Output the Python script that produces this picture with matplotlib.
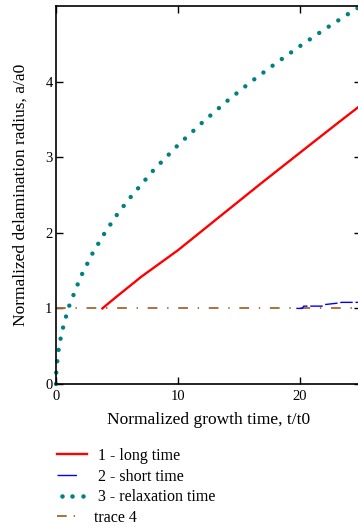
import matplotlib
matplotlib.use('Agg')
import matplotlib.pyplot as plt
from matplotlib.lines import Line2D
from matplotlib.legend_handler import HandlerLine2D

plt.rcParams['font.family'] = ['Liberation Serif', 'DejaVu Serif']
plt.rcParams['lines.scale_dashes'] = False

# 1 - long time
t_long = [3.8, 5, 7, 10, 13, 16.7, 20, 23, 25]
a_long = [1.0, 1.16, 1.42, 1.77, 2.16, 2.64, 3.06, 3.44, 3.69]

# 2 - short time (stepped)
t_short = [19.7, 20.2, 20.3, 21.8, 22.0, 23.1, 23.4, 25]
a_short = [1.0, 1.0, 1.03, 1.03, 1.05, 1.07, 1.08, 1.08]

# 3 - relaxation time
t_relax = [0, 0.02, 0.1, 0.25, 0.5, 1, 2, 3, 4, 5, 6, 8, 10, 12, 14, 16, 18, 20, 22, 24, 25]
a_relax = [0, 0.15, 0.3, 0.5, 0.7, 1.0, 1.41, 1.73, 2.0, 2.24, 2.45, 2.83, 3.16, 3.46, 3.74,
           4.0, 4.24, 4.47, 4.69, 4.9, 5.0]

# trace 4
t_trace4 = [0, 25]
a_trace4 = [1.0, 1.0]

labels = [' 1 - long time', ' 2 - short time', ' 3 - relaxation time', 'trace 4']

red = '#ff0000'
blue = '#0000ff'
teal = '#008080'
brown = '#a8662c'

fig = plt.figure(figsize=(3.58, 5.29), dpi=100)
ax = fig.add_axes([56 / 358, 1 - 384 / 529, 305 / 358, 378 / 529])

ax.plot(t_trace4, a_trace4, color=brown, lw=1.3, dashes=(7, 7, 1, 7))
ax.plot(t_long, a_long, color=red, lw=1.7)
ax.plot(t_short, a_short, color=blue, lw=1.0, dashes=(9, 2))
ax.plot(t_relax, a_relax, color=teal, lw=3.2, dashes=(0.01, 8.2),
        dash_capstyle='round', clip_on=False)

ax.set_xlim(0, 25)
ax.set_ylim(0, 5)
ax.set_xticks([0, 10, 20])
ax.set_yticks([0, 1, 2, 3, 4])
ax.tick_params(direction='in', length=5, width=1, labelsize=10.5, top=True, right=True)
ax.tick_params(axis='y', pad=2.5)
ax.tick_params(axis='x', pad=4)
for s in ax.spines.values():
    s.set_linewidth(1.2)

ax.set_xlabel('Normalized growth time, t/t0', fontsize=12.5, labelpad=7)
ax.set_ylabel('Normalized delamination radius, a/a0', fontsize=12.5, labelpad=12)

dots = Line2D([], [], color=teal, ls='none', marker='o', markersize=3.2, markeredgewidth=0)
handles = [
    Line2D([], [], color=red, lw=1.7),
    Line2D([], [], color=blue, lw=1.0, dashes=(14, 30)),
    dots,
    Line2D([], [], color=brown, lw=1.3, dashes=(7, 5, 1, 20)),
]
fig.legend(handles, labels, loc='upper left', bbox_to_anchor=(57 / 358, 1 - 448 / 529),
           frameon=False, fontsize=11.5, handlelength=1.9, handletextpad=0.4,
           labelspacing=0.29, borderaxespad=0, borderpad=0,
           handler_map={dots: HandlerLine2D(numpoints=3)})

fig.savefig('out.png', dpi=100)
